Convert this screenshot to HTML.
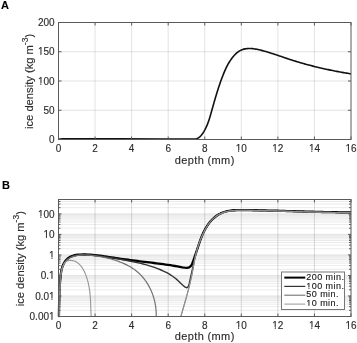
<!DOCTYPE html>
<html><head><meta charset="utf-8"><style>
html,body{margin:0;padding:0;background:#fff;}
svg{display:block;will-change:transform;}
text{font-family:"Liberation Sans",sans-serif;fill:#2b2b2b;stroke:#2b2b2b;stroke-width:0.14px;}
.t{font-size:10px;}
.l{font-size:11px;}
.x{letter-spacing:0.36px;}
.yl{font-size:11.2px;}
.s{font-size:8.5px;}
.g{font-size:9px;fill:#1a1a1a;stroke:#1a1a1a;letter-spacing:0.45px;}
.h{font-size:11px;font-weight:bold;fill:#000;stroke:#000;stroke-width:0.1px;}
</style></head><body>
<svg width="357" height="343" viewBox="0 0 357 343">
<rect width="357" height="343" fill="#fff"/>
<line x1="95.06" y1="22.5" x2="95.06" y2="139.5" stroke="#262626" stroke-opacity="0.125" stroke-width="1"/>
<line x1="131.62" y1="22.5" x2="131.62" y2="139.5" stroke="#262626" stroke-opacity="0.125" stroke-width="1"/>
<line x1="168.19" y1="22.5" x2="168.19" y2="139.5" stroke="#262626" stroke-opacity="0.125" stroke-width="1"/>
<line x1="204.75" y1="22.5" x2="204.75" y2="139.5" stroke="#262626" stroke-opacity="0.125" stroke-width="1"/>
<line x1="241.31" y1="22.5" x2="241.31" y2="139.5" stroke="#262626" stroke-opacity="0.125" stroke-width="1"/>
<line x1="277.88" y1="22.5" x2="277.88" y2="139.5" stroke="#262626" stroke-opacity="0.125" stroke-width="1"/>
<line x1="314.44" y1="22.5" x2="314.44" y2="139.5" stroke="#262626" stroke-opacity="0.125" stroke-width="1"/>
<line x1="58.5" y1="110.25" x2="351" y2="110.25" stroke="#262626" stroke-opacity="0.125" stroke-width="1"/>
<line x1="58.5" y1="81" x2="351" y2="81" stroke="#262626" stroke-opacity="0.125" stroke-width="1"/>
<line x1="58.5" y1="51.75" x2="351" y2="51.75" stroke="#262626" stroke-opacity="0.125" stroke-width="1"/>
<path d="M58.5,139.4 L60,139.0 L63,138.85 L120,138.85 L160,138.95 L186,139.0 L191.90,138.99 L193.17,139.15 L194.36,139.16 L195.48,139.02 L196.52,138.75 L197.50,138.35 L198.41,137.85 L199.27,137.24 L200.07,136.56 L200.83,135.80 L201.54,134.98 L202.21,134.11 L202.85,133.20 L203.45,132.27 L204.03,131.33 L204.57,130.37 L205.10,129.40 L205.60,128.42 L206.08,127.43 L206.53,126.43 L206.97,125.41 L207.39,124.40 L207.79,123.37 L208.18,122.33 L208.55,121.29 L208.91,120.24 L209.25,119.19 L209.59,118.13 L209.92,117.07 L210.24,116.01 L210.55,114.94 L210.85,113.87 L211.16,112.79 L211.46,111.72 L211.75,110.65 L212.05,109.57 L212.35,108.50 L212.65,107.43 L212.95,106.36 L213.25,105.29 L213.55,104.22 L213.86,103.15 L214.16,102.08 L214.47,101.02 L214.78,99.95 L215.09,98.89 L215.40,97.83 L215.72,96.77 L216.03,95.71 L216.35,94.65 L216.67,93.59 L217,92.54 L217.33,91.49 L217.66,90.43 L217.99,89.39 L218.33,88.34 L218.68,87.29 L219.02,86.25 L219.37,85.21 L219.73,84.17 L220.08,83.13 L220.45,82.10 L220.81,81.07 L221.19,80.04 L221.56,79.01 L221.95,77.98 L222.33,76.96 L222.73,75.94 L223.13,74.93 L223.53,73.91 L223.94,72.90 L224.36,71.89 L224.79,70.89 L225.23,69.89 L225.69,68.89 L226.15,67.90 L226.64,66.91 L227.14,65.93 L227.66,64.95 L228.19,63.97 L228.75,63.00 L229.34,62.04 L229.94,61.08 L230.57,60.12 L231.23,59.18 L231.92,58.24 L232.62,57.32 L233.36,56.43 L234.12,55.56 L234.90,54.72 L235.71,53.92 L236.54,53.15 L237.40,52.44 L238.27,51.78 L239.17,51.17 L240.10,50.63 L241.04,50.15 L242,49.73 L242.99,49.39 L243.99,49.10 L245.01,48.87 L246.05,48.70 L247.09,48.58 L248.16,48.51 L249.23,48.48 L250.31,48.50 L251.40,48.55 L252.50,48.65 L253.60,48.77 L254.71,48.93 L255.82,49.12 L256.93,49.33 L258.05,49.56 L259.16,49.81 L260.26,50.07 L261.37,50.35 L262.47,50.63 L263.56,50.93 L264.64,51.23 L265.72,51.53 L266.80,51.84 L267.87,52.16 L268.93,52.48 L270,52.81 L271.05,53.14 L272.11,53.48 L273.16,53.82 L274.20,54.16 L275.25,54.50 L276.29,54.85 L277.33,55.20 L278.37,55.55 L279.40,55.90 L280.44,56.26 L281.47,56.61 L282.51,56.96 L283.54,57.32 L284.58,57.67 L285.61,58.02 L286.65,58.37 L287.68,58.72 L288.72,59.06 L289.76,59.40 L290.81,59.74 L291.85,60.08 L292.90,60.41 L293.94,60.74 L294.99,61.07 L296.05,61.39 L297.10,61.71 L298.16,62.03 L299.21,62.34 L300.27,62.65 L301.33,62.96 L302.40,63.26 L303.46,63.57 L304.53,63.86 L305.59,64.16 L306.66,64.45 L307.73,64.74 L308.80,65.02 L309.87,65.31 L310.95,65.59 L312.02,65.86 L313.09,66.14 L314.17,66.41 L315.25,66.67 L316.33,66.94 L317.40,67.20 L318.48,67.46 L319.56,67.71 L320.65,67.97 L321.73,68.21 L322.81,68.46 L323.89,68.70 L324.97,68.95 L326.06,69.18 L327.14,69.42 L328.23,69.65 L329.31,69.88 L330.39,70.10 L331.48,70.33 L332.56,70.55 L333.65,70.76 L334.73,70.98 L335.82,71.19 L336.90,71.40 L337.98,71.60 L339.07,71.81 L340.15,72.01 L341.23,72.20 L342.31,72.40 L343.40,72.59 L344.48,72.78 L345.56,72.97 L346.64,73.15 L347.72,73.33 L348.80,73.51 L349.87,73.68 L350.95,73.86" fill="none" stroke="#111" stroke-width="1.6" stroke-linejoin="round"/>
<rect x="58.5" y="22.5" width="292.5" height="117" fill="none" stroke="#5a5a5a" stroke-width="1"/>
<line x1="58.5" y1="139.5" x2="58.5" y2="136.5" stroke="#5a5a5a"/>
<line x1="58.5" y1="22.5" x2="58.5" y2="25.5" stroke="#5a5a5a"/>
<line x1="95.06" y1="139.5" x2="95.06" y2="136.5" stroke="#5a5a5a"/>
<line x1="95.06" y1="22.5" x2="95.06" y2="25.5" stroke="#5a5a5a"/>
<line x1="131.62" y1="139.5" x2="131.62" y2="136.5" stroke="#5a5a5a"/>
<line x1="131.62" y1="22.5" x2="131.62" y2="25.5" stroke="#5a5a5a"/>
<line x1="168.19" y1="139.5" x2="168.19" y2="136.5" stroke="#5a5a5a"/>
<line x1="168.19" y1="22.5" x2="168.19" y2="25.5" stroke="#5a5a5a"/>
<line x1="204.75" y1="139.5" x2="204.75" y2="136.5" stroke="#5a5a5a"/>
<line x1="204.75" y1="22.5" x2="204.75" y2="25.5" stroke="#5a5a5a"/>
<line x1="241.31" y1="139.5" x2="241.31" y2="136.5" stroke="#5a5a5a"/>
<line x1="241.31" y1="22.5" x2="241.31" y2="25.5" stroke="#5a5a5a"/>
<line x1="277.88" y1="139.5" x2="277.88" y2="136.5" stroke="#5a5a5a"/>
<line x1="277.88" y1="22.5" x2="277.88" y2="25.5" stroke="#5a5a5a"/>
<line x1="314.44" y1="139.5" x2="314.44" y2="136.5" stroke="#5a5a5a"/>
<line x1="314.44" y1="22.5" x2="314.44" y2="25.5" stroke="#5a5a5a"/>
<line x1="351" y1="139.5" x2="351" y2="136.5" stroke="#5a5a5a"/>
<line x1="351" y1="22.5" x2="351" y2="25.5" stroke="#5a5a5a"/>
<line x1="58.5" y1="139.5" x2="61.5" y2="139.5" stroke="#5a5a5a"/>
<line x1="351" y1="139.5" x2="348" y2="139.5" stroke="#5a5a5a"/>
<line x1="58.5" y1="110.25" x2="61.5" y2="110.25" stroke="#5a5a5a"/>
<line x1="351" y1="110.25" x2="348" y2="110.25" stroke="#5a5a5a"/>
<line x1="58.5" y1="81" x2="61.5" y2="81" stroke="#5a5a5a"/>
<line x1="351" y1="81" x2="348" y2="81" stroke="#5a5a5a"/>
<line x1="58.5" y1="51.75" x2="61.5" y2="51.75" stroke="#5a5a5a"/>
<line x1="351" y1="51.75" x2="348" y2="51.75" stroke="#5a5a5a"/>
<line x1="58.5" y1="22.5" x2="61.5" y2="22.5" stroke="#5a5a5a"/>
<line x1="351" y1="22.5" x2="348" y2="22.5" stroke="#5a5a5a"/>
<text x="58.5" y="151.5" text-anchor="middle" class="t">0</text>
<text x="95.06" y="151.5" text-anchor="middle" class="t">2</text>
<text x="131.62" y="151.5" text-anchor="middle" class="t">4</text>
<text x="168.19" y="151.5" text-anchor="middle" class="t">6</text>
<text x="204.75" y="151.5" text-anchor="middle" class="t">8</text>
<text x="241.31" y="151.5" text-anchor="middle" class="t">10</text>
<text x="277.88" y="151.5" text-anchor="middle" class="t">12</text>
<text x="314.44" y="151.5" text-anchor="middle" class="t">14</text>
<text x="351" y="151.5" text-anchor="middle" class="t">16</text>
<text x="54.6" y="143.2" text-anchor="end" class="t">0</text>
<text x="54.6" y="113.95" text-anchor="end" class="t">50</text>
<text x="54.6" y="84.7" text-anchor="end" class="t">100</text>
<text x="54.6" y="55.45" text-anchor="end" class="t">150</text>
<text x="54.6" y="26.2" text-anchor="end" class="t">200</text>
<text x="204.75" y="163.6" text-anchor="middle" class="l x">depth (mm)</text>
<text transform="translate(33.2,81.4) rotate(-90)" text-anchor="middle" class="l yl">ice density (kg m<tspan class="s" dy="-5.6">-3</tspan><tspan dy="5.6">)</tspan></text>
<text x="1.0" y="8.7" class="h">A</text>
<line x1="95.06" y1="199.5" x2="95.06" y2="316.5" stroke="#262626" stroke-opacity="0.16" stroke-width="1"/>
<line x1="131.62" y1="199.5" x2="131.62" y2="316.5" stroke="#262626" stroke-opacity="0.16" stroke-width="1"/>
<line x1="168.19" y1="199.5" x2="168.19" y2="316.5" stroke="#262626" stroke-opacity="0.16" stroke-width="1"/>
<line x1="204.75" y1="199.5" x2="204.75" y2="316.5" stroke="#262626" stroke-opacity="0.16" stroke-width="1"/>
<line x1="241.31" y1="199.5" x2="241.31" y2="316.5" stroke="#262626" stroke-opacity="0.16" stroke-width="1"/>
<line x1="277.88" y1="199.5" x2="277.88" y2="316.5" stroke="#262626" stroke-opacity="0.16" stroke-width="1"/>
<line x1="314.44" y1="199.5" x2="314.44" y2="316.5" stroke="#262626" stroke-opacity="0.16" stroke-width="1"/>
<line x1="58.5" y1="310.32" x2="351" y2="310.32" stroke="#262626" stroke-opacity="0.09" stroke-width="1"/>
<line x1="58.5" y1="306.7" x2="351" y2="306.7" stroke="#262626" stroke-opacity="0.09" stroke-width="1"/>
<line x1="58.5" y1="304.14" x2="351" y2="304.14" stroke="#262626" stroke-opacity="0.09" stroke-width="1"/>
<line x1="58.5" y1="302.15" x2="351" y2="302.15" stroke="#262626" stroke-opacity="0.09" stroke-width="1"/>
<line x1="58.5" y1="300.52" x2="351" y2="300.52" stroke="#262626" stroke-opacity="0.09" stroke-width="1"/>
<line x1="58.5" y1="299.15" x2="351" y2="299.15" stroke="#262626" stroke-opacity="0.09" stroke-width="1"/>
<line x1="58.5" y1="297.96" x2="351" y2="297.96" stroke="#262626" stroke-opacity="0.09" stroke-width="1"/>
<line x1="58.5" y1="296.91" x2="351" y2="296.91" stroke="#262626" stroke-opacity="0.09" stroke-width="1"/>
<line x1="58.5" y1="289.79" x2="351" y2="289.79" stroke="#262626" stroke-opacity="0.09" stroke-width="1"/>
<line x1="58.5" y1="286.17" x2="351" y2="286.17" stroke="#262626" stroke-opacity="0.09" stroke-width="1"/>
<line x1="58.5" y1="283.61" x2="351" y2="283.61" stroke="#262626" stroke-opacity="0.09" stroke-width="1"/>
<line x1="58.5" y1="281.62" x2="351" y2="281.62" stroke="#262626" stroke-opacity="0.09" stroke-width="1"/>
<line x1="58.5" y1="279.99" x2="351" y2="279.99" stroke="#262626" stroke-opacity="0.09" stroke-width="1"/>
<line x1="58.5" y1="278.62" x2="351" y2="278.62" stroke="#262626" stroke-opacity="0.09" stroke-width="1"/>
<line x1="58.5" y1="277.43" x2="351" y2="277.43" stroke="#262626" stroke-opacity="0.09" stroke-width="1"/>
<line x1="58.5" y1="276.38" x2="351" y2="276.38" stroke="#262626" stroke-opacity="0.09" stroke-width="1"/>
<line x1="58.5" y1="269.26" x2="351" y2="269.26" stroke="#262626" stroke-opacity="0.09" stroke-width="1"/>
<line x1="58.5" y1="265.64" x2="351" y2="265.64" stroke="#262626" stroke-opacity="0.09" stroke-width="1"/>
<line x1="58.5" y1="263.08" x2="351" y2="263.08" stroke="#262626" stroke-opacity="0.09" stroke-width="1"/>
<line x1="58.5" y1="261.09" x2="351" y2="261.09" stroke="#262626" stroke-opacity="0.09" stroke-width="1"/>
<line x1="58.5" y1="259.46" x2="351" y2="259.46" stroke="#262626" stroke-opacity="0.09" stroke-width="1"/>
<line x1="58.5" y1="258.09" x2="351" y2="258.09" stroke="#262626" stroke-opacity="0.09" stroke-width="1"/>
<line x1="58.5" y1="256.9" x2="351" y2="256.9" stroke="#262626" stroke-opacity="0.09" stroke-width="1"/>
<line x1="58.5" y1="255.85" x2="351" y2="255.85" stroke="#262626" stroke-opacity="0.09" stroke-width="1"/>
<line x1="58.5" y1="248.73" x2="351" y2="248.73" stroke="#262626" stroke-opacity="0.09" stroke-width="1"/>
<line x1="58.5" y1="245.11" x2="351" y2="245.11" stroke="#262626" stroke-opacity="0.09" stroke-width="1"/>
<line x1="58.5" y1="242.55" x2="351" y2="242.55" stroke="#262626" stroke-opacity="0.09" stroke-width="1"/>
<line x1="58.5" y1="240.56" x2="351" y2="240.56" stroke="#262626" stroke-opacity="0.09" stroke-width="1"/>
<line x1="58.5" y1="238.93" x2="351" y2="238.93" stroke="#262626" stroke-opacity="0.09" stroke-width="1"/>
<line x1="58.5" y1="237.56" x2="351" y2="237.56" stroke="#262626" stroke-opacity="0.09" stroke-width="1"/>
<line x1="58.5" y1="236.37" x2="351" y2="236.37" stroke="#262626" stroke-opacity="0.09" stroke-width="1"/>
<line x1="58.5" y1="235.32" x2="351" y2="235.32" stroke="#262626" stroke-opacity="0.09" stroke-width="1"/>
<line x1="58.5" y1="228.2" x2="351" y2="228.2" stroke="#262626" stroke-opacity="0.09" stroke-width="1"/>
<line x1="58.5" y1="224.58" x2="351" y2="224.58" stroke="#262626" stroke-opacity="0.09" stroke-width="1"/>
<line x1="58.5" y1="222.02" x2="351" y2="222.02" stroke="#262626" stroke-opacity="0.09" stroke-width="1"/>
<line x1="58.5" y1="220.03" x2="351" y2="220.03" stroke="#262626" stroke-opacity="0.09" stroke-width="1"/>
<line x1="58.5" y1="218.4" x2="351" y2="218.4" stroke="#262626" stroke-opacity="0.09" stroke-width="1"/>
<line x1="58.5" y1="217.03" x2="351" y2="217.03" stroke="#262626" stroke-opacity="0.09" stroke-width="1"/>
<line x1="58.5" y1="215.84" x2="351" y2="215.84" stroke="#262626" stroke-opacity="0.09" stroke-width="1"/>
<line x1="58.5" y1="214.79" x2="351" y2="214.79" stroke="#262626" stroke-opacity="0.09" stroke-width="1"/>
<line x1="58.5" y1="207.67" x2="351" y2="207.67" stroke="#262626" stroke-opacity="0.09" stroke-width="1"/>
<line x1="58.5" y1="204.05" x2="351" y2="204.05" stroke="#262626" stroke-opacity="0.09" stroke-width="1"/>
<line x1="58.5" y1="201.49" x2="351" y2="201.49" stroke="#262626" stroke-opacity="0.09" stroke-width="1"/>
<line x1="58.5" y1="199.5" x2="351" y2="199.5" stroke="#262626" stroke-opacity="0.09" stroke-width="1"/>
<line x1="58.5" y1="295.97" x2="351" y2="295.97" stroke="#262626" stroke-opacity="0.12" stroke-width="1"/>
<line x1="58.5" y1="275.44" x2="351" y2="275.44" stroke="#262626" stroke-opacity="0.12" stroke-width="1"/>
<line x1="58.5" y1="254.91" x2="351" y2="254.91" stroke="#262626" stroke-opacity="0.12" stroke-width="1"/>
<line x1="58.5" y1="234.38" x2="351" y2="234.38" stroke="#262626" stroke-opacity="0.12" stroke-width="1"/>
<line x1="58.5" y1="213.85" x2="351" y2="213.85" stroke="#262626" stroke-opacity="0.12" stroke-width="1"/>
<g fill="none" stroke-linejoin="round">
<path d="M58.90,316.51 L58.95,314.11 L58.99,311.72 L59.03,309.33 L59.07,306.95 L59.12,304.58 L59.17,302.20 L59.22,299.83 L59.28,297.47 L59.36,295.10 L59.45,292.73 L59.55,290.36 L59.67,287.99 L59.80,285.62 L59.96,283.24 L60.14,280.86 L60.35,278.48 L60.58,276.09 L60.86,273.70 L61.22,271.33 L61.72,269.00 L62.38,266.73 L63.25,264.54 L64.38,262.45 L65.78,260.50 L67.43,258.76 L69.30,257.31 L71.36,256.22 L73.58,255.47 L75.91,255.00 L78.31,254.72 L80.72,254.58 L83.12,254.51 L85.52,254.51 L87.90,254.58 L90.27,254.71 L92.64,254.88 L95,255.10 L97.35,255.36 L99.71,255.66 L102.05,255.98 L104.40,256.32 L106.75,256.67 L109.10,257.03 L111.45,257.40 L113.80,257.76 L116.16,258.11 L118.52,258.45 L120.88,258.79 L123.25,259.12 L125.62,259.44 L127.98,259.76 L130.35,260.07 L132.72,260.37 L135.09,260.68 L137.46,260.98 L139.82,261.27 L142.18,261.56 L144.54,261.85 L146.90,262.14 L149.25,262.43 L151.59,262.72 L153.94,263.01 L156.28,263.30 L158.62,263.59 L160.95,263.90 L163.30,264.21 L165.64,264.54 L167.99,264.88 L170.35,265.23 L172.71,265.60 L175.09,266.00 L177.47,266.41 L179.87,266.85 L182.28,267.32 L184.69,267.72 L187.03,267.81 L189.21,267.32 L190.88,266.00 L192.06,264.04 L192.95,261.75 L193.76,259.40 L194.55,257.10 L195.33,254.84 L196.10,252.60 L196.85,250.38 L197.61,248.15 L198.35,245.92 L199.11,243.68 L199.88,241.43 L200.69,239.19 L201.53,236.97 L202.44,234.77 L203.41,232.59 L204.46,230.44 L205.60,228.34 L206.84,226.29 L208.21,224.29 L209.68,222.37 L211.27,220.53 L212.96,218.81 L214.75,217.22 L216.63,215.77 L218.59,214.50 L220.64,213.41 L222.75,212.51 L224.93,211.78 L227.17,211.22 L229.46,210.78 L231.79,210.47 L234.15,210.27 L236.55,210.14 L238.96,210.08 L241.38,210.07 L243.81,210.09 L246.24,210.12 L248.66,210.15 L251.08,210.19 L253.49,210.23 L255.90,210.27 L258.30,210.32 L260.69,210.37 L263.09,210.42 L265.48,210.47 L267.86,210.53 L270.24,210.59 L272.62,210.65 L275,210.71 L277.37,210.77 L279.74,210.83 L282.11,210.90 L284.48,210.96 L286.84,211.03 L289.21,211.10 L291.57,211.16 L293.93,211.23 L296.29,211.30 L298.66,211.37 L301.02,211.43 L303.38,211.50 L305.74,211.56 L308.10,211.63 L310.47,211.69 L312.83,211.75 L315.20,211.81 L317.57,211.87 L319.94,211.93 L322.31,211.98 L324.69,212.04 L327.06,212.09 L329.44,212.14 L331.83,212.18 L334.22,212.22 L336.61,212.26 L339.01,212.30 L341.41,212.33 L343.81,212.36 L346.22,212.38 L348.64,212.41 L351.06,212.42" stroke="#000" stroke-width="2.3"/>
<path d="M59.01,316.82 L59.04,314.23 L59.08,311.66 L59.12,309.11 L59.16,306.58 L59.21,304.06 L59.27,301.55 L59.34,299.04 L59.42,296.54 L59.52,294.04 L59.63,291.54 L59.76,289.03 L59.90,286.51 L60.06,283.98 L60.25,281.44 L60.46,278.87 L60.70,276.29 L60.98,273.70 L61.37,271.14 L61.91,268.64 L62.67,266.24 L63.70,263.98 L65.04,261.89 L66.70,260.01 L68.61,258.38 L70.73,257.02 L73.02,255.99 L75.43,255.29 L77.92,254.89 L80.47,254.72 L83.05,254.70 L85.63,254.79 L88.19,254.93 L90.74,255.10 L93.26,255.32 L95.78,255.57 L98.28,255.85 L100.78,256.16 L103.27,256.50 L105.77,256.85 L108.26,257.22 L110.76,257.61 L113.26,258.01 L115.76,258.43 L118.26,258.86 L120.76,259.30 L123.26,259.76 L125.76,260.23 L128.25,260.71 L130.75,261.21 L133.24,261.72 L135.72,262.25 L138.20,262.81 L140.67,263.40 L143.13,264.01 L145.58,264.67 L148.01,265.36 L150.43,266.09 L152.84,266.87 L155.22,267.69 L157.59,268.57 L159.94,269.51 L162.26,270.51 L164.55,271.58 L166.80,272.72 L169.01,273.96 L171.16,275.28 L173.26,276.71 L175.30,278.24 L177.27,279.89 L179.16,281.66 L181,283.51 L182.86,285.29 L184.82,286.84 L186.86,287.83 L188.31,286.60 L189.13,284.02 L189.71,281.40 L190.23,278.85 L190.79,276.39 L191.35,273.96 L191.90,271.52 L192.44,269.05 L192.96,266.58 L193.49,264.09 L194.02,261.60 L194.58,259.12 L195.15,256.64 L195.76,254.17 L196.41,251.72 L197.11,249.30 L197.86,246.90 L198.66,244.52 L199.52,242.15 L200.43,239.81 L201.41,237.48 L202.45,235.16 L203.55,232.86 L204.71,230.56 L205.95,228.30 L207.27,226.08 L208.68,223.94 L210.19,221.89 L211.81,219.96 L213.54,218.17 L215.40,216.54 L217.39,215.10 L219.53,213.87 L221.81,212.86 L224.22,212.05 L226.72,211.43 L229.28,210.97 L231.89,210.64 L234.50,210.43 L237.08,210.30 L239.64,210.23 L242.16,210.22 L244.68,210.23 L247.19,210.25 L249.70,210.27 L252.22,210.31 L254.74,210.34 L257.26,210.38 L259.78,210.43 L262.30,210.48 L264.83,210.53 L267.36,210.59 L269.89,210.65 L272.42,210.71 L274.95,210.78 L277.48,210.85 L280.02,210.92 L282.55,210.99 L285.09,211.06 L287.62,211.14 L290.16,211.21 L292.70,211.29 L295.24,211.36 L297.78,211.44 L300.32,211.52 L302.86,211.59 L305.39,211.66 L307.93,211.74 L310.47,211.81 L313.01,211.88 L315.55,211.95 L318.09,212.01 L320.63,212.07 L323.16,212.13 L325.70,212.19 L328.23,212.24 L330.77,212.29 L333.30,212.34 L335.83,212.38 L338.36,212.41 L340.89,212.44 L343.42,212.47 L345.94,212.49 L348.46,212.50 L350.99,212.51" stroke="#333" stroke-width="1.4"/>
<path d="M58.96,317.33 L59.02,316.13 L59.08,314.94 L59.12,313.76 L59.17,312.58 L59.21,311.41 L59.24,310.24 L59.27,309.08 L59.29,307.93 L59.31,306.77 L59.33,305.62 L59.35,304.47 L59.36,303.33 L59.37,302.19 L59.39,301.05 L59.40,299.91 L59.42,298.77 L59.43,297.63 L59.45,296.49 L59.47,295.35 L59.49,294.22 L59.52,293.08 L59.55,291.94 L59.59,290.79 L59.63,289.65 L59.68,288.50 L59.73,287.35 L59.79,286.20 L59.86,285.04 L59.94,283.88 L60.02,282.71 L60.12,281.54 L60.22,280.36 L60.34,279.18 L60.46,277.99 L60.60,276.79 L60.76,275.60 L60.93,274.40 L61.12,273.21 L61.34,272.02 L61.59,270.85 L61.87,269.70 L62.19,268.57 L62.55,267.46 L62.95,266.38 L63.40,265.34 L63.89,264.33 L64.45,263.37 L65.06,262.45 L65.73,261.57 L66.46,260.76 L67.26,260.00 L68.11,259.29 L69.02,258.65 L69.97,258.06 L70.98,257.54 L72.02,257.07 L73.09,256.66 L74.19,256.31 L75.31,256.00 L76.44,255.74 L77.58,255.52 L78.74,255.35 L79.90,255.21 L81.06,255.11 L82.23,255.04 L83.41,255.00 L84.59,255.00 L85.77,255.02 L86.95,255.06 L88.14,255.13 L89.32,255.22 L90.50,255.33 L91.68,255.45 L92.85,255.59 L94.02,255.73 L95.18,255.89 L96.33,256.05 L97.48,256.22 L98.63,256.40 L99.76,256.59 L100.89,256.78 L102.02,256.98 L103.14,257.20 L104.26,257.42 L105.37,257.65 L106.48,257.90 L107.59,258.15 L108.69,258.42 L109.79,258.70 L110.89,258.99 L111.99,259.29 L113.09,259.61 L114.19,259.94 L115.29,260.29 L116.39,260.65 L117.49,261.03 L118.59,261.42 L119.68,261.83 L120.77,262.25 L121.86,262.69 L122.94,263.15 L124.01,263.62 L125.08,264.11 L126.13,264.62 L127.18,265.15 L128.22,265.69 L129.24,266.26 L130.26,266.84 L131.26,267.44 L132.24,268.06 L133.21,268.71 L134.17,269.37 L135.10,270.05 L136.02,270.76 L136.92,271.49 L137.80,272.23 L138.66,273.00 L139.50,273.79 L140.32,274.60 L141.12,275.42 L141.90,276.27 L142.66,277.13 L143.41,278.01 L144.13,278.91 L144.83,279.82 L145.51,280.75 L146.17,281.69 L146.81,282.65 L147.43,283.62 L148.03,284.61 L148.61,285.61 L149.17,286.62 L149.70,287.65 L150.22,288.68 L150.72,289.73 L151.19,290.79 L151.65,291.85 L152.08,292.93 L152.49,294.02 L152.88,295.11 L153.25,296.21 L153.60,297.32 L153.93,298.44 L154.24,299.56 L154.52,300.69 L154.78,301.82 L155.02,302.96 L155.24,304.11 L155.44,305.25 L155.61,306.40 L155.77,307.55 L155.90,308.71 L156.01,309.87 L156.10,311.02 L156.16,312.18 L156.20,313.34 L156.22,314.50 L156.22,315.65 L156.20,316.81" stroke="#727272" stroke-width="1.2"/>
<path d="M180.84,316.49 L181.27,315.01 L181.69,313.54 L182.13,312.06 L182.56,310.59 L182.99,309.11 L183.41,307.64 L183.84,306.17 L184.27,304.69 L184.69,303.22 L185.11,301.74 L185.53,300.27 L185.95,298.79 L186.36,297.31 L186.77,295.84 L187.17,294.36 L187.57,292.88 L187.97,291.39 L188.36,289.91 L188.74,288.43 L189.12,286.94 L189.49,285.45 L189.85,283.96 L190.21,282.47 L190.55,280.98 L190.89,279.48 L191.22,277.99 L191.55,276.49 L191.86,274.98 L192.16,273.48 L192.46,271.97 L192.74,270.46 L193.02,268.95 L193.29,267.44 L193.56,265.93 L193.84,264.41 L194.11,262.90 L194.39,261.39 L194.68,259.89 L194.98,258.38 L195.30,256.89 L195.62,255.39 L195.97,253.90 L196.34,252.42 L196.73,250.94 L197.14,249.47 L197.57,248.01 L198.03,246.56 L198.51,245.11 L199.01,243.67 L199.54,242.23 L200.08,240.80 L200.65,239.37 L201.24,237.95 L201.85,236.54 L202.48,235.13 L203.13,233.73 L203.80,232.33 L204.49,230.94 L205.21,229.55 L205.95,228.19 L206.73,226.84 L207.55,225.52 L208.40,224.23 L209.31,222.98 L210.26,221.76 L211.27,220.60 L212.33,219.48 L213.45,218.42 L214.61,217.42 L215.82,216.49 L217.08,215.62 L218.36,214.82 L219.69,214.10 L221.04,213.46 L222.42,212.89 L223.82,212.39 L225.24,211.96 L226.69,211.59 L228.16,211.28 L229.65,211.02 L231.15,210.81 L232.66,210.65 L234.19,210.52 L235.73,210.42 L237.27,210.36 L238.83,210.32 L240.38,210.30 L241.95,210.29 L243.51,210.30 L245.07,210.31 L246.63,210.32 L248.19,210.34 L249.75,210.36 L251.30,210.38 L252.85,210.40 L254.40,210.42 L255.95,210.45 L257.50,210.48 L259.04,210.50 L260.59,210.53 L262.13,210.57 L263.67,210.60 L265.21,210.63 L266.75,210.67 L268.28,210.70 L269.82,210.74 L271.35,210.78 L272.89,210.82 L274.42,210.86 L275.95,210.90 L277.48,210.94 L279.01,210.99 L280.54,211.03 L282.07,211.07 L283.59,211.12 L285.12,211.16 L286.65,211.21 L288.17,211.25 L289.70,211.30 L291.22,211.35 L292.75,211.39 L294.27,211.44 L295.79,211.48 L297.32,211.53 L298.84,211.58 L300.37,211.62 L301.89,211.67 L303.41,211.71 L304.94,211.76 L306.46,211.80 L307.99,211.85 L309.51,211.89 L311.04,211.93 L312.56,211.97 L314.09,212.02 L315.62,212.06 L317.14,212.09 L318.67,212.13 L320.20,212.17 L321.73,212.21 L323.26,212.24 L324.80,212.28 L326.33,212.31 L327.86,212.34 L329.40,212.37 L330.93,212.40 L332.47,212.43 L334.01,212.45 L335.55,212.48 L337.09,212.50 L338.64,212.52 L340.18,212.54 L341.73,212.55 L343.28,212.57 L344.83,212.58 L346.38,212.59 L347.93,212.60 L349.49,212.60 L351.05,212.61" stroke="#727272" stroke-width="1.1"/>
<path d="M59.17,316.51 L59.15,315.71 L59.14,314.91 L59.13,314.11 L59.12,313.31 L59.12,312.51 L59.12,311.72 L59.13,310.92 L59.14,310.13 L59.15,309.34 L59.16,308.55 L59.18,307.76 L59.20,306.97 L59.23,306.19 L59.25,305.40 L59.28,304.61 L59.31,303.83 L59.34,303.04 L59.37,302.26 L59.41,301.48 L59.44,300.69 L59.48,299.91 L59.52,299.13 L59.56,298.34 L59.59,297.56 L59.63,296.78 L59.68,295.99 L59.72,295.21 L59.76,294.43 L59.80,293.64 L59.84,292.86 L59.88,292.07 L59.92,291.29 L59.95,290.50 L59.99,289.72 L60.03,288.93 L60.06,288.14 L60.10,287.35 L60.13,286.56 L60.16,285.77 L60.19,284.98 L60.21,284.18 L60.24,283.39 L60.27,282.59 L60.29,281.80 L60.32,281.00 L60.36,280.20 L60.40,279.41 L60.44,278.61 L60.49,277.81 L60.55,277.02 L60.62,276.23 L60.70,275.43 L60.79,274.64 L60.90,273.86 L61.01,273.07 L61.15,272.29 L61.30,271.50 L61.46,270.73 L61.65,269.95 L61.85,269.18 L62.08,268.41 L62.32,267.64 L62.59,266.88 L62.89,266.13 L63.21,265.38 L63.56,264.65 L63.95,263.95 L64.37,263.29 L64.84,262.68 L65.36,262.13 L65.93,261.65 L66.56,261.25 L67.25,260.93 L67.98,260.69 L68.75,260.53 L69.55,260.44 L70.35,260.42 L71.15,260.45 L71.94,260.53 L72.71,260.66 L73.45,260.84 L74.17,261.05 L74.87,261.31 L75.55,261.61 L76.21,261.95 L76.85,262.32 L77.47,262.73 L78.06,263.17 L78.64,263.65 L79.20,264.15 L79.74,264.69 L80.26,265.25 L80.77,265.84 L81.25,266.45 L81.72,267.09 L82.18,267.74 L82.61,268.42 L83.03,269.11 L83.43,269.82 L83.82,270.55 L84.20,271.29 L84.56,272.04 L84.90,272.80 L85.23,273.57 L85.55,274.35 L85.85,275.13 L86.14,275.92 L86.42,276.71 L86.68,277.50 L86.94,278.29 L87.18,279.08 L87.41,279.86 L87.63,280.64 L87.84,281.42 L88.04,282.20 L88.23,282.98 L88.41,283.75 L88.58,284.52 L88.74,285.29 L88.89,286.06 L89.03,286.83 L89.17,287.60 L89.30,288.36 L89.42,289.13 L89.53,289.89 L89.64,290.66 L89.74,291.42 L89.83,292.18 L89.92,292.95 L90,293.71 L90.07,294.47 L90.14,295.24 L90.21,296.00 L90.27,296.77 L90.33,297.54 L90.38,298.30 L90.43,299.07 L90.47,299.84 L90.52,300.61 L90.55,301.39 L90.59,302.16 L90.63,302.94 L90.66,303.72 L90.69,304.50 L90.72,305.28 L90.75,306.07 L90.78,306.86 L90.81,307.65 L90.84,308.45 L90.86,309.24 L90.89,310.05 L90.92,310.85 L90.95,311.66 L90.98,312.47 L91.02,313.29 L91.05,314.11 L91.09,314.94 L91.13,315.76 L91.18,316.60" stroke="#969696" stroke-width="1.1"/>
<path d="M180.84,316.49 L181.26,315.01 L181.69,313.54 L182.12,312.06 L182.55,310.59 L182.98,309.12 L183.41,307.64 L183.84,306.17 L184.27,304.69 L184.69,303.22 L185.11,301.75 L185.53,300.27 L185.95,298.79 L186.36,297.32 L186.77,295.84 L187.17,294.36 L187.57,292.88 L187.97,291.40 L188.36,289.92 L188.74,288.43 L189.11,286.95 L189.49,285.46 L189.85,283.97 L190.20,282.48 L190.55,280.99 L190.89,279.49 L191.22,277.99 L191.55,276.49 L191.86,274.99 L192.16,273.49 L192.45,271.98 L192.74,270.47 L193.02,268.96 L193.29,267.45 L193.56,265.94 L193.83,264.42 L194.11,262.91 L194.39,261.40 L194.68,259.90 L194.98,258.40 L195.30,256.90 L195.62,255.40 L195.97,253.92 L196.34,252.43 L196.73,250.96 L197.14,249.49 L197.58,248.03 L198.03,246.57 L198.52,245.13 L199.02,243.68 L199.55,242.25 L200.09,240.82 L200.66,239.39 L201.25,237.97 L201.86,236.56 L202.49,235.15 L203.14,233.75 L203.82,232.35 L204.51,230.96 L205.22,229.58 L205.97,228.21 L206.75,226.87 L207.56,225.55 L208.42,224.26 L209.32,223.00 L210.28,221.79 L211.28,220.63 L212.35,219.51 L213.47,218.46 L214.63,217.46 L215.84,216.52 L217.10,215.65 L218.39,214.86 L219.71,214.14 L221.06,213.50 L222.44,212.93 L223.84,212.43 L225.27,212.01 L226.72,211.64 L228.18,211.33 L229.67,211.07 L231.17,210.86 L232.68,210.69 L234.21,210.57 L235.75,210.47 L237.30,210.41 L238.85,210.37 L240.41,210.35 L241.97,210.34 L243.53,210.35 L245.09,210.36 L246.65,210.37 L248.21,210.39 L249.77,210.41 L251.32,210.43 L252.87,210.45 L254.42,210.47 L255.97,210.50 L257.52,210.53 L259.06,210.56 L260.60,210.59 L262.15,210.62 L263.69,210.65 L265.23,210.68 L266.76,210.72 L268.30,210.76 L269.84,210.79 L271.37,210.83 L272.90,210.87 L274.43,210.91 L275.96,210.95 L277.49,210.99 L279.02,211.04 L280.55,211.08 L282.08,211.12 L283.61,211.17 L285.13,211.21 L286.66,211.26 L288.18,211.30 L289.71,211.35 L291.23,211.40 L292.76,211.44 L294.28,211.49 L295.81,211.53 L297.33,211.58 L298.85,211.63 L300.38,211.67 L301.90,211.72 L303.42,211.76 L304.95,211.81 L306.47,211.85 L308,211.90 L309.52,211.94 L311.05,211.98 L312.57,212.02 L314.10,212.06 L315.62,212.11 L317.15,212.14 L318.68,212.18 L320.21,212.22 L321.74,212.26 L323.27,212.29 L324.80,212.33 L326.33,212.36 L327.87,212.39 L329.40,212.42 L330.94,212.45 L332.48,212.48 L334.02,212.50 L335.56,212.53 L337.10,212.55 L338.64,212.57 L340.19,212.59 L341.73,212.60 L343.28,212.62 L344.83,212.63 L346.38,212.64 L347.94,212.65 L349.49,212.65 L351.05,212.66" stroke="#969696" stroke-width="1.0"/>
</g>
<rect x="58.5" y="199.5" width="292.5" height="117" fill="none" stroke="#5a5a5a" stroke-width="1"/>
<line x1="58.5" y1="316.5" x2="58.5" y2="313.5" stroke="#5a5a5a"/>
<line x1="58.5" y1="199.5" x2="58.5" y2="202.5" stroke="#5a5a5a"/>
<line x1="95.06" y1="316.5" x2="95.06" y2="313.5" stroke="#5a5a5a"/>
<line x1="95.06" y1="199.5" x2="95.06" y2="202.5" stroke="#5a5a5a"/>
<line x1="131.62" y1="316.5" x2="131.62" y2="313.5" stroke="#5a5a5a"/>
<line x1="131.62" y1="199.5" x2="131.62" y2="202.5" stroke="#5a5a5a"/>
<line x1="168.19" y1="316.5" x2="168.19" y2="313.5" stroke="#5a5a5a"/>
<line x1="168.19" y1="199.5" x2="168.19" y2="202.5" stroke="#5a5a5a"/>
<line x1="204.75" y1="316.5" x2="204.75" y2="313.5" stroke="#5a5a5a"/>
<line x1="204.75" y1="199.5" x2="204.75" y2="202.5" stroke="#5a5a5a"/>
<line x1="241.31" y1="316.5" x2="241.31" y2="313.5" stroke="#5a5a5a"/>
<line x1="241.31" y1="199.5" x2="241.31" y2="202.5" stroke="#5a5a5a"/>
<line x1="277.88" y1="316.5" x2="277.88" y2="313.5" stroke="#5a5a5a"/>
<line x1="277.88" y1="199.5" x2="277.88" y2="202.5" stroke="#5a5a5a"/>
<line x1="314.44" y1="316.5" x2="314.44" y2="313.5" stroke="#5a5a5a"/>
<line x1="314.44" y1="199.5" x2="314.44" y2="202.5" stroke="#5a5a5a"/>
<line x1="351" y1="316.5" x2="351" y2="313.5" stroke="#5a5a5a"/>
<line x1="351" y1="199.5" x2="351" y2="202.5" stroke="#5a5a5a"/>
<line x1="58.5" y1="316.5" x2="61.5" y2="316.5" stroke="#5a5a5a"/>
<line x1="351" y1="316.5" x2="348" y2="316.5" stroke="#5a5a5a"/>
<line x1="58.5" y1="295.97" x2="61.5" y2="295.97" stroke="#5a5a5a"/>
<line x1="351" y1="295.97" x2="348" y2="295.97" stroke="#5a5a5a"/>
<line x1="58.5" y1="275.44" x2="61.5" y2="275.44" stroke="#5a5a5a"/>
<line x1="351" y1="275.44" x2="348" y2="275.44" stroke="#5a5a5a"/>
<line x1="58.5" y1="254.91" x2="61.5" y2="254.91" stroke="#5a5a5a"/>
<line x1="351" y1="254.91" x2="348" y2="254.91" stroke="#5a5a5a"/>
<line x1="58.5" y1="234.38" x2="61.5" y2="234.38" stroke="#5a5a5a"/>
<line x1="351" y1="234.38" x2="348" y2="234.38" stroke="#5a5a5a"/>
<line x1="58.5" y1="213.85" x2="61.5" y2="213.85" stroke="#5a5a5a"/>
<line x1="351" y1="213.85" x2="348" y2="213.85" stroke="#5a5a5a"/>
<line x1="58.5" y1="310.32" x2="60.5" y2="310.32" stroke="#5a5a5a"/>
<line x1="351" y1="310.32" x2="349" y2="310.32" stroke="#5a5a5a"/>
<line x1="58.5" y1="306.7" x2="60.5" y2="306.7" stroke="#5a5a5a"/>
<line x1="351" y1="306.7" x2="349" y2="306.7" stroke="#5a5a5a"/>
<line x1="58.5" y1="304.14" x2="60.5" y2="304.14" stroke="#5a5a5a"/>
<line x1="351" y1="304.14" x2="349" y2="304.14" stroke="#5a5a5a"/>
<line x1="58.5" y1="302.15" x2="60.5" y2="302.15" stroke="#5a5a5a"/>
<line x1="351" y1="302.15" x2="349" y2="302.15" stroke="#5a5a5a"/>
<line x1="58.5" y1="300.52" x2="60.5" y2="300.52" stroke="#5a5a5a"/>
<line x1="351" y1="300.52" x2="349" y2="300.52" stroke="#5a5a5a"/>
<line x1="58.5" y1="299.15" x2="60.5" y2="299.15" stroke="#5a5a5a"/>
<line x1="351" y1="299.15" x2="349" y2="299.15" stroke="#5a5a5a"/>
<line x1="58.5" y1="297.96" x2="60.5" y2="297.96" stroke="#5a5a5a"/>
<line x1="351" y1="297.96" x2="349" y2="297.96" stroke="#5a5a5a"/>
<line x1="58.5" y1="296.91" x2="60.5" y2="296.91" stroke="#5a5a5a"/>
<line x1="351" y1="296.91" x2="349" y2="296.91" stroke="#5a5a5a"/>
<line x1="58.5" y1="289.79" x2="60.5" y2="289.79" stroke="#5a5a5a"/>
<line x1="351" y1="289.79" x2="349" y2="289.79" stroke="#5a5a5a"/>
<line x1="58.5" y1="286.17" x2="60.5" y2="286.17" stroke="#5a5a5a"/>
<line x1="351" y1="286.17" x2="349" y2="286.17" stroke="#5a5a5a"/>
<line x1="58.5" y1="283.61" x2="60.5" y2="283.61" stroke="#5a5a5a"/>
<line x1="351" y1="283.61" x2="349" y2="283.61" stroke="#5a5a5a"/>
<line x1="58.5" y1="281.62" x2="60.5" y2="281.62" stroke="#5a5a5a"/>
<line x1="351" y1="281.62" x2="349" y2="281.62" stroke="#5a5a5a"/>
<line x1="58.5" y1="279.99" x2="60.5" y2="279.99" stroke="#5a5a5a"/>
<line x1="351" y1="279.99" x2="349" y2="279.99" stroke="#5a5a5a"/>
<line x1="58.5" y1="278.62" x2="60.5" y2="278.62" stroke="#5a5a5a"/>
<line x1="351" y1="278.62" x2="349" y2="278.62" stroke="#5a5a5a"/>
<line x1="58.5" y1="277.43" x2="60.5" y2="277.43" stroke="#5a5a5a"/>
<line x1="351" y1="277.43" x2="349" y2="277.43" stroke="#5a5a5a"/>
<line x1="58.5" y1="276.38" x2="60.5" y2="276.38" stroke="#5a5a5a"/>
<line x1="351" y1="276.38" x2="349" y2="276.38" stroke="#5a5a5a"/>
<line x1="58.5" y1="269.26" x2="60.5" y2="269.26" stroke="#5a5a5a"/>
<line x1="351" y1="269.26" x2="349" y2="269.26" stroke="#5a5a5a"/>
<line x1="58.5" y1="265.64" x2="60.5" y2="265.64" stroke="#5a5a5a"/>
<line x1="351" y1="265.64" x2="349" y2="265.64" stroke="#5a5a5a"/>
<line x1="58.5" y1="263.08" x2="60.5" y2="263.08" stroke="#5a5a5a"/>
<line x1="351" y1="263.08" x2="349" y2="263.08" stroke="#5a5a5a"/>
<line x1="58.5" y1="261.09" x2="60.5" y2="261.09" stroke="#5a5a5a"/>
<line x1="351" y1="261.09" x2="349" y2="261.09" stroke="#5a5a5a"/>
<line x1="58.5" y1="259.46" x2="60.5" y2="259.46" stroke="#5a5a5a"/>
<line x1="351" y1="259.46" x2="349" y2="259.46" stroke="#5a5a5a"/>
<line x1="58.5" y1="258.09" x2="60.5" y2="258.09" stroke="#5a5a5a"/>
<line x1="351" y1="258.09" x2="349" y2="258.09" stroke="#5a5a5a"/>
<line x1="58.5" y1="256.9" x2="60.5" y2="256.9" stroke="#5a5a5a"/>
<line x1="351" y1="256.9" x2="349" y2="256.9" stroke="#5a5a5a"/>
<line x1="58.5" y1="255.85" x2="60.5" y2="255.85" stroke="#5a5a5a"/>
<line x1="351" y1="255.85" x2="349" y2="255.85" stroke="#5a5a5a"/>
<line x1="58.5" y1="248.73" x2="60.5" y2="248.73" stroke="#5a5a5a"/>
<line x1="351" y1="248.73" x2="349" y2="248.73" stroke="#5a5a5a"/>
<line x1="58.5" y1="245.11" x2="60.5" y2="245.11" stroke="#5a5a5a"/>
<line x1="351" y1="245.11" x2="349" y2="245.11" stroke="#5a5a5a"/>
<line x1="58.5" y1="242.55" x2="60.5" y2="242.55" stroke="#5a5a5a"/>
<line x1="351" y1="242.55" x2="349" y2="242.55" stroke="#5a5a5a"/>
<line x1="58.5" y1="240.56" x2="60.5" y2="240.56" stroke="#5a5a5a"/>
<line x1="351" y1="240.56" x2="349" y2="240.56" stroke="#5a5a5a"/>
<line x1="58.5" y1="238.93" x2="60.5" y2="238.93" stroke="#5a5a5a"/>
<line x1="351" y1="238.93" x2="349" y2="238.93" stroke="#5a5a5a"/>
<line x1="58.5" y1="237.56" x2="60.5" y2="237.56" stroke="#5a5a5a"/>
<line x1="351" y1="237.56" x2="349" y2="237.56" stroke="#5a5a5a"/>
<line x1="58.5" y1="236.37" x2="60.5" y2="236.37" stroke="#5a5a5a"/>
<line x1="351" y1="236.37" x2="349" y2="236.37" stroke="#5a5a5a"/>
<line x1="58.5" y1="235.32" x2="60.5" y2="235.32" stroke="#5a5a5a"/>
<line x1="351" y1="235.32" x2="349" y2="235.32" stroke="#5a5a5a"/>
<line x1="58.5" y1="228.2" x2="60.5" y2="228.2" stroke="#5a5a5a"/>
<line x1="351" y1="228.2" x2="349" y2="228.2" stroke="#5a5a5a"/>
<line x1="58.5" y1="224.58" x2="60.5" y2="224.58" stroke="#5a5a5a"/>
<line x1="351" y1="224.58" x2="349" y2="224.58" stroke="#5a5a5a"/>
<line x1="58.5" y1="222.02" x2="60.5" y2="222.02" stroke="#5a5a5a"/>
<line x1="351" y1="222.02" x2="349" y2="222.02" stroke="#5a5a5a"/>
<line x1="58.5" y1="220.03" x2="60.5" y2="220.03" stroke="#5a5a5a"/>
<line x1="351" y1="220.03" x2="349" y2="220.03" stroke="#5a5a5a"/>
<line x1="58.5" y1="218.4" x2="60.5" y2="218.4" stroke="#5a5a5a"/>
<line x1="351" y1="218.4" x2="349" y2="218.4" stroke="#5a5a5a"/>
<line x1="58.5" y1="217.03" x2="60.5" y2="217.03" stroke="#5a5a5a"/>
<line x1="351" y1="217.03" x2="349" y2="217.03" stroke="#5a5a5a"/>
<line x1="58.5" y1="215.84" x2="60.5" y2="215.84" stroke="#5a5a5a"/>
<line x1="351" y1="215.84" x2="349" y2="215.84" stroke="#5a5a5a"/>
<line x1="58.5" y1="214.79" x2="60.5" y2="214.79" stroke="#5a5a5a"/>
<line x1="351" y1="214.79" x2="349" y2="214.79" stroke="#5a5a5a"/>
<line x1="58.5" y1="207.67" x2="60.5" y2="207.67" stroke="#5a5a5a"/>
<line x1="351" y1="207.67" x2="349" y2="207.67" stroke="#5a5a5a"/>
<line x1="58.5" y1="204.05" x2="60.5" y2="204.05" stroke="#5a5a5a"/>
<line x1="351" y1="204.05" x2="349" y2="204.05" stroke="#5a5a5a"/>
<line x1="58.5" y1="201.49" x2="60.5" y2="201.49" stroke="#5a5a5a"/>
<line x1="351" y1="201.49" x2="349" y2="201.49" stroke="#5a5a5a"/>
<line x1="58.5" y1="199.5" x2="60.5" y2="199.5" stroke="#5a5a5a"/>
<line x1="351" y1="199.5" x2="349" y2="199.5" stroke="#5a5a5a"/>
<text x="58.5" y="328.5" text-anchor="middle" class="t">0</text>
<text x="95.06" y="328.5" text-anchor="middle" class="t">2</text>
<text x="131.62" y="328.5" text-anchor="middle" class="t">4</text>
<text x="168.19" y="328.5" text-anchor="middle" class="t">6</text>
<text x="204.75" y="328.5" text-anchor="middle" class="t">8</text>
<text x="241.31" y="328.5" text-anchor="middle" class="t">10</text>
<text x="277.88" y="328.5" text-anchor="middle" class="t">12</text>
<text x="314.44" y="328.5" text-anchor="middle" class="t">14</text>
<text x="351" y="328.5" text-anchor="middle" class="t">16</text>
<text x="54.6" y="320.4" text-anchor="end" class="t">0.001</text>
<text x="54.6" y="299.87" text-anchor="end" class="t">0.01</text>
<text x="54.6" y="279.34" text-anchor="end" class="t">0.1</text>
<text x="54.6" y="258.81" text-anchor="end" class="t">1</text>
<text x="54.6" y="238.28" text-anchor="end" class="t">10</text>
<text x="54.6" y="217.75" text-anchor="end" class="t">100</text>
<text x="204.75" y="340.4" text-anchor="middle" class="l x">depth (mm)</text>
<text transform="translate(24.3,258.7) rotate(-90)" text-anchor="middle" class="l yl">ice density (kg m<tspan class="s" dy="-5.6">-3</tspan><tspan dy="5.6">)</tspan></text>
<text x="1.9" y="189.2" class="h">B</text>
<rect x="281.5" y="272" width="63" height="37.5" fill="#fff" stroke="#777" stroke-width="1"/>
<line x1="284.3" y1="277.6" x2="305.3" y2="277.6" stroke="#000" stroke-width="2.0"/>
<text x="306.3" y="279.8" class="g">200 min.</text>
<line x1="284.3" y1="286.4" x2="305.3" y2="286.4" stroke="#333" stroke-width="1.2"/>
<text x="306.3" y="288.6" class="g">100 min.</text>
<line x1="284.3" y1="295.2" x2="305.3" y2="295.2" stroke="#727272" stroke-width="1.1"/>
<text x="306.3" y="297.4" class="g">50 min.</text>
<line x1="284.3" y1="304.1" x2="305.3" y2="304.1" stroke="#969696" stroke-width="1"/>
<text x="306.3" y="306.3" class="g">10 min.</text>
<g id="f1"><rect x="236.00" y="150.00" width="2.18" height="2.00" fill="#fff"/><rect x="239.18" y="150.00" width="1.82" height="2.00" fill="#fff"/><rect x="272.00" y="150.00" width="2.75" height="2.00" fill="#fff"/><rect x="275.75" y="150.00" width="2.25" height="2.00" fill="#fff"/><rect x="309.00" y="150.00" width="2.31" height="2.00" fill="#fff"/><rect x="312.31" y="150.00" width="2.69" height="2.00" fill="#fff"/><rect x="346.00" y="150.00" width="1.87" height="2.00" fill="#fff"/><rect x="348.87" y="150.00" width="2.13" height="2.00" fill="#fff"/><rect x="38.00" y="83.00" width="2.34" height="2.00" fill="#fff"/><rect x="41.34" y="83.00" width="2.66" height="2.00" fill="#fff"/><rect x="38.00" y="54.00" width="2.34" height="2.00" fill="#fff"/><rect x="41.34" y="54.00" width="2.66" height="2.00" fill="#fff"/><rect x="236.00" y="327.00" width="2.18" height="2.00" fill="#fff"/><rect x="239.18" y="327.00" width="1.82" height="2.00" fill="#fff"/><rect x="272.00" y="327.00" width="2.75" height="2.00" fill="#fff"/><rect x="275.75" y="327.00" width="2.25" height="2.00" fill="#fff"/><rect x="309.00" y="327.00" width="2.31" height="2.00" fill="#fff"/><rect x="312.31" y="327.00" width="2.69" height="2.00" fill="#fff"/><rect x="346.00" y="327.00" width="1.87" height="2.00" fill="#fff"/><rect x="348.87" y="327.00" width="2.13" height="2.00" fill="#fff"/><rect x="49.00" y="319.00" width="2.45" height="2.00" fill="#fff"/><rect x="52.45" y="319.00" width="2.55" height="2.00" fill="#fff"/><rect x="49.00" y="298.00" width="2.45" height="3.00" fill="#fff"/><rect x="52.45" y="298.00" width="2.55" height="3.00" fill="#fff"/><rect x="49.00" y="278.00" width="2.45" height="2.00" fill="#fff"/><rect x="52.45" y="278.00" width="2.55" height="2.00" fill="#fff"/><rect x="49.00" y="257.00" width="2.47" height="2.00" fill="#fff"/><rect x="52.47" y="257.00" width="2.53" height="2.00" fill="#fff"/><rect x="44.00" y="237.00" width="1.90" height="2.00" fill="#fff"/><rect x="46.90" y="237.00" width="2.10" height="2.00" fill="#fff"/><rect x="38.00" y="216.00" width="2.34" height="2.00" fill="#fff"/><rect x="41.34" y="216.00" width="2.66" height="2.00" fill="#fff"/><rect x="306.00" y="287.00" width="2.49" height="2.00" fill="#fff"/><rect x="309.39" y="287.00" width="1.61" height="2.00" fill="#fff"/><rect x="306.00" y="305.00" width="2.49" height="2.00" fill="#fff"/><rect x="309.39" y="305.00" width="1.61" height="2.00" fill="#fff"/></g>
</svg>
</body></html>
